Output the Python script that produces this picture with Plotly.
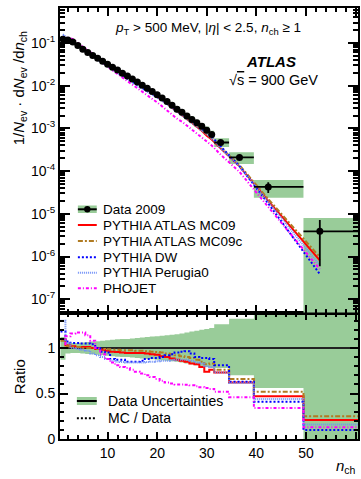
import plotly.graph_objects as go

# ---------------- data ----------------
nch = [1, 2, 3, 4, 5, 6, 7, 8, 9, 10, 11, 12, 13, 14, 15, 16, 17, 18, 19, 20,
       21, 22, 23, 24, 25, 26, 27, 28, 29, 30, 31, 32.8, 36.6, 42.4, 52.8]
bin_lo = [0.5, 1.5, 2.5, 3.5, 4.5, 5.5, 6.5, 7.5, 8.5, 9.5, 10.5, 11.5, 12.5, 13.5, 14.5,
          15.5, 16.5, 17.5, 18.5, 19.5, 20.5, 21.5, 22.5, 23.5, 24.5, 25.5, 26.5, 27.5,
          28.5, 29.5, 30.5, 31.5, 34.5, 39.5, 49.5]
bin_hi = [1.5, 2.5, 3.5, 4.5, 5.5, 6.5, 7.5, 8.5, 9.5, 10.5, 11.5, 12.5, 13.5, 14.5, 15.5,
          16.5, 17.5, 18.5, 19.5, 20.5, 21.5, 22.5, 23.5, 24.5, 25.5, 26.5, 27.5, 28.5,
          29.5, 30.5, 31.5, 34.5, 39.5, 49.5, 70.0]

data_2009 = [0.1230, 0.1175, 0.1059, 0.0871, 0.0716, 0.0596, 0.0513, 0.0437, 0.0372, 0.0320,
             0.0272, 0.0232, 0.0197, 0.0168, 0.0143, 0.0122, 0.0102, 0.00871, 0.00733, 0.00617,
             0.00513, 0.00427, 0.00347, 0.00282, 0.00240, 0.00195, 0.00162, 0.00135, 0.00112,
             0.000912, 0.000724, 0.000468, 0.000209, 4.27e-5, 3.89e-6]
data_stat = [0.0004, 0.0004, 0.0004, 0.0003, 0.0003, 0.0003, 0.0003, 0.0003, 0.0002, 0.0002,
             0.0002, 0.0002, 0.0002, 0.0002, 0.00015, 0.00015, 0.00012, 0.0001, 0.0001, 0.00009,
             0.00008, 0.00007, 0.00006, 0.00006, 0.00005, 0.00005, 0.00004, 0.00004, 0.00004,
             0.00003, 0.00003, 0.00002, 0.00002, 1.2e-5, 3.3e-6]
# relative total uncertainties (up / down)
unc_up = [0.12, 0.06, 0.055, 0.055, 0.06, 0.065, 0.07, 0.075, 0.08, 0.085, 0.09, 0.095, 0.10,
          0.10, 0.105, 0.11, 0.115, 0.12, 0.125, 0.13, 0.135, 0.14, 0.145, 0.15, 0.16, 0.17,
          0.18, 0.19, 0.20, 0.21, 0.22, 0.26, 0.32, 0.45, 1.05]
unc_dn = [0.13, 0.06, 0.055, 0.055, 0.06, 0.065, 0.07, 0.075, 0.08, 0.085, 0.09, 0.095, 0.10,
          0.10, 0.105, 0.11, 0.115, 0.12, 0.125, 0.13, 0.135, 0.14, 0.145, 0.15, 0.16, 0.17,
          0.18, 0.19, 0.20, 0.21, 0.22, 0.22, 0.30, 0.44, 1.0]

# MC / Data ratios
r_mc09 = [1.10, 1.03, 1.02, 1.01, 1.01, 1.01, 1.00, 0.99, 0.98, 0.97, 0.96, 0.955, 0.95, 0.945,
          0.945, 0.945, 0.945, 0.94, 0.93, 0.925, 0.91, 0.90, 0.885, 0.87, 0.86, 0.85, 0.83,
          0.82, 0.79, 0.74, 0.76, 0.73, 0.62, 0.47, 0.21]
r_mc09c = [1.08, 1.02, 1.01, 1.01, 1.00, 1.00, 1.00, 0.99, 0.99, 0.985, 0.98, 0.98, 0.975,
           0.975, 0.975, 0.97, 0.97, 0.965, 0.96, 0.955, 0.95, 0.94, 0.93, 0.92, 0.91, 0.90,
           0.89, 0.87, 0.85, 0.82, 0.83, 0.76, 0.66, 0.52, 0.25]
r_dw = [1.18, 1.07, 1.055, 1.055, 1.05, 1.05, 1.04, 1.00, 0.96, 0.95, 0.88, 0.87, 0.87, 0.85,
        0.85, 0.85, 0.86, 0.88, 0.89, 0.89, 0.90, 0.92, 0.93, 0.95, 0.96, 0.965, 0.94, 0.90,
        0.89, 0.89, 0.88, 0.81, 0.63, 0.41, 0.10]
r_perugia0 = [1.30, 1.05, 1.00, 0.99, 0.98, 0.97, 0.94, 0.92, 0.90, 0.88, 0.86, 0.85, 0.845,
              0.84, 0.84, 0.84, 0.84, 0.845, 0.85, 0.855, 0.86, 0.86, 0.865, 0.87, 0.87, 0.87,
              0.86, 0.84, 0.83, 0.80, 0.79, 0.73, 0.615, 0.44, 0.16]
r_phojet = [1.00, 1.13, 1.16, 1.17, 1.17, 1.14, 1.08, 1.00, 0.93, 0.88, 0.84, 0.81, 0.79, 0.78,
            0.76, 0.74, 0.72, 0.70, 0.68, 0.66, 0.64, 0.62, 0.61, 0.60, 0.60, 0.595, 0.59,
            0.58, 0.57, 0.56, 0.55, 0.52, 0.46, 0.34, 0.13]

mc_names = ["PYTHIA ATLAS MC09", "PYTHIA ATLAS MC09c", "PYTHIA DW", "PYTHIA Perugia0", "PHOJET"]
mc_ratios = [r_mc09, r_mc09c, r_dw, r_perugia0, r_phojet]

# ---------------- style ----------------
FONT = "Liberation Sans, Arial, sans-serif"
GREEN = "#99CC99"
mc_styles = [
    dict(color="#FF0000", width=2, dash="solid"),
    dict(color="#B07B22", width=2, dash="5px,2px,2px,2px"),
    dict(color="#0000FF", width=2, dash="2px,2px"),
    dict(color="#6F8FF7", width=2, dash="1px,1px"),
    dict(color="#FF00FF", width=2, dash="3px,2px,1px,2px"),
]

W, H = 361, 479
ML, MR, MT, MB = 60, 1, 8, 40
PW, PH = W - ML - MR, H - MT - MB


def fx(px):
    return (px - ML) / PW


def fy(py):
    return (H - MB - py) / PH


split = fy(312.5)
XR = [0.4, 60.5]

fig = go.Figure()

# ---------- top panel ----------
centers = [(a + b) / 2 for a, b in zip(bin_lo, bin_hi)]
widths = [b - a for a, b in zip(bin_lo, bin_hi)]
box_lo = [max(v * (1 - d), 1e-12) for v, d in zip(data_2009, unc_dn)]
box_hi = [v * (1 + u) for v, u in zip(data_2009, unc_up)]
fig.add_trace(go.Bar(x=centers, y=[h - l for h, l in zip(box_hi, box_lo)], base=box_lo,
                     width=widths, marker=dict(color=GREEN, line=dict(width=0)),
                     xaxis="x2", yaxis="y2", showlegend=False, hoverinfo="skip"))

for name, r, st in zip(mc_names, mc_ratios, mc_styles):
    fig.add_trace(go.Scatter(x=nch, y=[v * q for v, q in zip(data_2009, r)], mode="lines",
                             line=st, name=name, xaxis="x2", yaxis="y2", showlegend=False))

fig.add_trace(go.Scatter(
    x=nch, y=data_2009, mode="markers", name="Data 2009",
    marker=dict(color="black", size=7),
    error_x=dict(type="data", symmetric=False,
                 array=[b - x for b, x in zip(bin_hi, nch)],
                 arrayminus=[x - a for a, x in zip(bin_lo, nch)],
                 color="black", thickness=1.8, width=0),
    error_y=dict(type="data", array=data_stat, color="black", thickness=1.8, width=0),
    xaxis="x2", yaxis="y2", showlegend=False))

# ---------- ratio panel ----------
edges = bin_lo + [bin_hi[-1]]
fig.add_trace(go.Scatter(x=edges, y=[1 - d for d in unc_dn] + [1 - unc_dn[-1]], mode="lines",
                         line=dict(width=0, shape="hv"), showlegend=False, hoverinfo="skip",
                         xaxis="x", yaxis="y"))
fig.add_trace(go.Scatter(x=edges, y=[1 + u for u in unc_up] + [1 + unc_up[-1]], mode="lines",
                         line=dict(width=0, shape="hv"), fill="tonexty", fillcolor=GREEN,
                         showlegend=False, hoverinfo="skip", xaxis="x", yaxis="y"))
fig.add_trace(go.Scatter(x=XR, y=[1, 1], mode="lines", line=dict(color="#222222", width=2),
                         showlegend=False, hoverinfo="skip", xaxis="x", yaxis="y"))
for name, r, st in zip(mc_names, mc_ratios, mc_styles):
    s = dict(st)
    s["shape"] = "hv"
    fig.add_trace(go.Scatter(x=edges, y=r + [r[-1]], mode="lines", line=s, name=name,
                             showlegend=False, xaxis="x", yaxis="y"))

# ---------- axes ----------
axis_common = dict(showline=True, linewidth=2, linecolor="black", mirror="ticks",
                   ticks="inside", tickcolor="black", tickwidth=1.5, showgrid=False,
                   zeroline=False, tickfont=dict(family=FONT, size=14, color="black"))

minor_log = [m * 10 ** e for e in range(-8, 0) for m in range(2, 10)]
fig.update_layout(
    xaxis=dict(axis_common, domain=[0, 1], range=XR, anchor="y", tick0=0, dtick=10,
               ticklen=7, minor=dict(ticks="inside", ticklen=4, dtick=2, tickcolor="black")),
    yaxis=dict(axis_common, domain=[0, split], range=[0, 1.39], anchor="x",
               tickvals=[0, 0.5, 1], ticktext=["0", "0.5", "1"], ticklen=8,
               minor=dict(ticks="inside", ticklen=4, dtick=0.1, tickcolor="black")),
    xaxis2=dict(axis_common, domain=[0, 1], range=XR, anchor="y2", matches="x",
                showticklabels=False, tick0=0, dtick=10, ticklen=8,
                minor=dict(ticks="inside", ticklen=4, dtick=2, tickcolor="black")),
    yaxis2=dict(axis_common, domain=[split, 1], type="log", range=[-7.31, -0.18], anchor="x2",
                tickvals=[1e-7, 1e-6, 1e-5, 1e-4, 1e-3, 1e-2, 1e-1],
                ticktext=["10<sup>-7</sup>", "10<sup>-6</sup>", "10<sup>-5</sup>",
                          "10<sup>-4</sup>", "10<sup>-3</sup>", "10<sup>-2</sup>",
                          "10<sup>-1</sup>"],
                ticklen=10,
                minor=dict(ticks="inside", ticklen=5, tickmode="array", tickvals=minor_log,
                           tickcolor="black")),
    width=W, height=H, margin=dict(l=ML, r=MR, t=MT, b=MB),
    paper_bgcolor="white", plot_bgcolor="white", barmode="overlay",
    font=dict(family=FONT, color="black"), showlegend=False,
)


def note(px, py, text, size, xanchor="center", angle=0):
    return dict(x=fx(px), y=fy(py), xref="paper", yref="paper", showarrow=False,
                xanchor=xanchor, yanchor="middle", textangle=angle, text=text,
                font=dict(family=FONT, size=size, color="black"))


# ---------- text ----------
ann = []
ann.append(note(209, 28, "<i>p</i><sub>T</sub> > 500 MeV, |<i>η</i>| < 2.5, "
                         "<i>n</i><sub>ch</sub> ≥ 1", 13.5))
ann.append(note(272, 61, "<b><i>ATLAS</i></b>", 15))
ann.append(note(275, 80, "√<span style='text-decoration:overline'>s</span> = 900 GeV", 14.5))
ann.append(note(19, 88, "1/<i>N</i><sub>ev</sub> · d<i>N</i><sub>ev</sub> /d<i>n</i><sub>ch</sub>",
                15, angle=-90))
ann.append(note(19, 377, "Ratio", 15, angle=-90))
ann.append(note(360, 466, "<i>n</i><sub>ch</sub>", 15, xanchor="right"))

# legend (top panel)
shapes = []
leg_y = [209.3, 225, 241, 257.3, 272.7, 288.3]
leg_names = ["Data 2009"] + mc_names
for yy, nm in zip(leg_y, leg_names):
    ann.append(note(101.5, yy, nm, 13.5, xanchor="left"))
shapes.append(dict(type="rect", xref="paper", yref="paper", x0=fx(78), x1=fx(97),
                   y0=fy(213), y1=fy(205.5), fillcolor=GREEN, line=dict(width=0)))
shapes.append(dict(type="line", xref="paper", yref="paper", x0=fx(78), x1=fx(97),
                   y0=fy(209.3), y1=fy(209.3), line=dict(color="black", width=2)))
shapes.append(dict(type="circle", xref="paper", yref="paper", x0=fx(84.3), x1=fx(90.7),
                   y0=fy(212.5), y1=fy(206.1), fillcolor="black", line=dict(width=0)))
for yy, st in zip(leg_y[1:], mc_styles):
    shapes.append(dict(type="line", xref="paper", yref="paper", x0=fx(78), x1=fx(97),
                       y0=fy(yy), y1=fy(yy), line=st))

# legend (ratio panel)
ann.append(note(106, 401, "Data Uncertainties", 14, xanchor="left"))
ann.append(note(106, 418.3, "MC / Data", 14, xanchor="left"))
shapes.append(dict(type="rect", xref="paper", yref="paper", x0=fx(77), x1=fx(97),
                   y0=fy(405), y1=fy(397), fillcolor=GREEN, line=dict(width=0)))
shapes.append(dict(type="line", xref="paper", yref="paper", x0=fx(77), x1=fx(97),
                   y0=fy(401), y1=fy(401), line=dict(color="black", width=2)))
shapes.append(dict(type="line", xref="paper", yref="paper", x0=fx(77), x1=fx(97),
                   y0=fy(418.3), y1=fy(418.3), line=dict(color="black", width=2, dash="2px,2px")))

fig.update_layout(annotations=ann, shapes=shapes)
fig.write_html("out.html")
